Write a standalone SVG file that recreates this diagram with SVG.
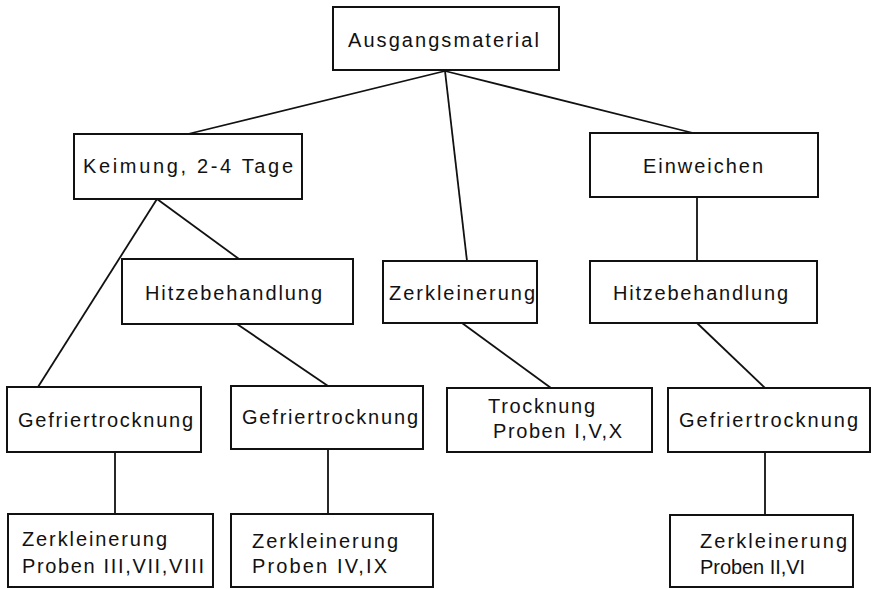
<svg xmlns="http://www.w3.org/2000/svg" width="875" height="589" viewBox="0 0 875 589">
<style>
.box{fill:#fff;stroke:#111;stroke-width:2}
line{stroke:#111;stroke-width:1.8}
text{font-family:"Liberation Sans",Arial,sans-serif;font-size:20px;fill:#111}
</style>
<rect width="875" height="589" fill="#fff"/>
<g id="connectors">
<line x1="445" y1="71" x2="188" y2="134"/>
<line x1="445" y1="71" x2="467" y2="261"/>
<line x1="445" y1="71" x2="693" y2="133"/>
<line x1="157" y1="199" x2="38" y2="387"/>
<line x1="157" y1="199" x2="239" y2="259"/>
<line x1="237" y1="324" x2="328" y2="386"/>
<line x1="697" y1="197" x2="697" y2="261"/>
<line x1="462" y1="323" x2="551" y2="388"/>
<line x1="697" y1="323" x2="765" y2="388"/>
<line x1="115" y1="452" x2="115" y2="514"/>
<line x1="328" y1="449" x2="328" y2="514"/>
<line x1="765" y1="452" x2="765" y2="515"/>
</g>
<g id="n_ausgang"><rect class="box" x="333" y="7" width="226" height="63"/><text x="348" y="47" textLength="191" lengthAdjust="spacing">Ausgangsmaterial</text></g>
<g id="n_keimung"><rect class="box" x="74" y="134" width="228" height="65"/><text x="83" y="173" textLength="210" lengthAdjust="spacing">Keimung, 2-4 Tage</text></g>
<g id="n_einweichen"><rect class="box" x="590" y="133" width="228" height="64"/><text x="643" y="173" textLength="120" lengthAdjust="spacing">Einweichen</text></g>
<g id="n_hitze1"><rect class="box" x="122" y="259" width="231" height="65"/><text x="145" y="300" textLength="177" lengthAdjust="spacing">Hitzebehandlung</text></g>
<g id="n_zerk_mid"><rect class="box" x="383" y="261" width="154" height="62"/><text x="389" y="300" textLength="146" lengthAdjust="spacing">Zerkleinerung</text></g>
<g id="n_hitze2"><rect class="box" x="590" y="261" width="227" height="62"/><text x="613" y="300" textLength="175" lengthAdjust="spacing">Hitzebehandlung</text></g>
<g id="n_gefrier1"><rect class="box" x="7" y="387" width="194" height="65"/><text x="18" y="427" textLength="175" lengthAdjust="spacing">Gefriertrocknung</text></g>
<g id="n_gefrier2"><rect class="box" x="231" y="386" width="192" height="63"/><text x="242" y="424" textLength="176" lengthAdjust="spacing">Gefriertrocknung</text></g>
<g id="n_trocknung"><rect class="box" x="447" y="388" width="205" height="64"/><text x="488" y="413" textLength="107" lengthAdjust="spacing">Trocknung</text><text x="493" y="438" textLength="129" lengthAdjust="spacing">Proben I,V,X</text></g>
<g id="n_gefrier3"><rect class="box" x="668" y="388" width="202" height="64"/><text x="679" y="427" textLength="179" lengthAdjust="spacing">Gefriertrocknung</text></g>
<g id="n_zerk1"><rect class="box" x="8" y="514" width="205" height="73"/><text x="22" y="546" textLength="145" lengthAdjust="spacing">Zerkleinerung</text><text x="22" y="573" textLength="182" lengthAdjust="spacing">Proben III,VII,VIII</text></g>
<g id="n_zerk2"><rect class="box" x="231" y="514" width="202" height="73"/><text x="252" y="548" textLength="146" lengthAdjust="spacing">Zerkleinerung</text><text x="252" y="573" textLength="135" lengthAdjust="spacing">Proben IV,IX</text></g>
<g id="n_zerk3"><rect class="box" x="670" y="515" width="183" height="72"/><text x="700" y="548" textLength="147" lengthAdjust="spacing">Zerkleinerung</text><text x="700" y="574" textLength="105" lengthAdjust="spacing">Proben II,VI</text></g>
</svg>
